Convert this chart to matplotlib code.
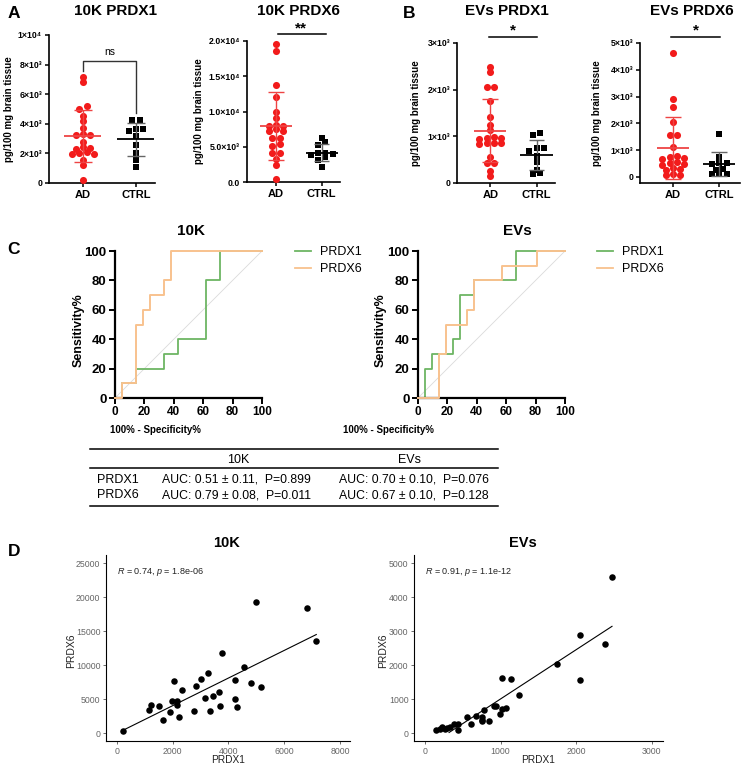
import numpy as np
import matplotlib
matplotlib.use("Agg")
import matplotlib.pyplot as plt
from matplotlib.lines import Line2D

plt.rcParams['font.family'] = ['Liberation Sans', 'DejaVu Sans']
plt.rcParams['mathtext.fontset'] = 'custom'
plt.rcParams['mathtext.rm'] = 'Liberation Sans'
plt.rcParams['mathtext.it'] = 'Liberation Sans:italic'
plt.rcParams['mathtext.bf'] = 'Liberation Sans:bold'

# ---------------- data ----------------
GROUPS = ['AD', 'CTRL']

# A / B : pg/100 mg brain tissue
AD_10K_PRDX1 = [7150, 6810, 5200, 5000, 4500, 4200, 3700, 3250, 3300, 3250, 2750,
                2400, 2300, 2350, 2100, 1950, 2000, 1950, 1560, 1240, 200]
CTRL_10K_PRDX1 = [4270, 4270, 3640, 3640, 3480, 3150, 2580, 2020, 1530, 1080]

AD_10K_PRDX6 = [19620, 18640, 13790, 12000, 9880, 9040, 8140, 7950, 7950, 7530, 7200,
                7200, 6260, 6260, 5320, 5080, 4140, 4140, 3290, 2450, 470]
CTRL_10K_PRDX6 = [6260, 5650, 5200, 4140, 4140, 4000, 3770, 3500, 3060, 2120]

AD_EV_PRDX1 = [2480, 2380, 2050, 2050, 1750, 1420, 1240, 1130, 980, 970, 960, 950,
               860, 850, 850, 840, 560, 430, 420, 250, 140]
CTRL_EV_PRDX1 = [1080, 1030, 760, 740, 690, 580, 450, 280, 220, 190]

AD_EV_PRDX6 = [4635, 2900, 2610, 2050, 1580, 1570, 1110, 780, 740, 720, 680, 560,
               520, 480, 450, 330, 300, 260, 120, 90, 70]
CTRL_EV_PRDX6 = [1610, 760, 530, 520, 500, 300, 260, 120, 110, 100]

YTICKS_10K_PRDX1 = [0, 2000, 4000, 6000, 8000, 10000]
YLABELS_10K_PRDX1 = ['0', '2×10³', '4×10³', '6×10³', '8×10³', '1×10⁴']
YTICKS_10K_PRDX6 = [0, 5000, 10000, 15000, 20000]
YLABELS_10K_PRDX6 = ['0.0', '5.0×10³', '1.0×10⁴', '1.5×10⁴', '2.0×10⁴']
YTICKS_EV_PRDX1 = [0, 1000, 2000, 3000]
YLABELS_EV_PRDX1 = ['0', '1×10³', '2×10³', '3×10³']
YTICKS_EV_PRDX6 = [0, 1000, 2000, 3000, 4000, 5000]
YLABELS_EV_PRDX6 = ['0', '1×10³', '2×10³', '3×10³', '4×10³', '5×10³']

# C : ROC step curves (100% - specificity, sensitivity)
ROC_10K_PRDX1_X = [0, 4.76, 14.29, 33.33, 42.86, 61.90, 71.43, 100]
ROC_10K_PRDX1_Y = [0, 10, 20, 30, 40, 80, 100, 100]
ROC_10K_PRDX6_X = [0, 4.76, 14.29, 19.05, 23.81, 33.33, 38.10, 100]
ROC_10K_PRDX6_Y = [0, 10, 50, 60, 70, 80, 100, 100]
ROC_EV_PRDX1_X = [0, 4.76, 9.52, 23.81, 28.57, 38.10, 66.67, 100]
ROC_EV_PRDX1_Y = [0, 20, 30, 40, 70, 80, 100, 100]
ROC_EV_PRDX6_X = [0, 14.29, 19.05, 33.33, 38.10, 57.14, 80.95, 100]
ROC_EV_PRDX6_Y = [0, 30, 50, 60, 80, 90, 100, 100]
ROC_TICKS = [0, 20, 40, 60, 80, 100]

TABLE_COLS = ['10K', 'EVs']
TABLE_ROWS = ['PRDX1', 'PRDX6']
AUC_10K = [(0.51, 0.11, 0.899), (0.79, 0.08, 0.011)]
AUC_EV = [(0.70, 0.10, 0.076), (0.67, 0.10, 0.128)]

# D : correlation PRDX1 vs PRDX6
COR_10K_PRDX1 = [200, 1150, 1220, 1520, 1640, 1890, 1980, 2040, 2140, 2160, 2210,
                 2330, 2760, 2820, 3010, 3160, 3260, 3330, 3460, 3670, 3680, 3760,
                 4230, 4250, 4300, 4540, 4790, 4980, 5170, 6820, 7150]
COR_10K_PRDX6 = [390, 3480, 4120, 4070, 2010, 3190, 4800, 7700, 4800, 4120, 2400,
                 6370, 3240, 7010, 8040, 5150, 8870, 3240, 5490, 6130, 4070, 11810,
                 7840, 5000, 3920, 9710, 7350, 19310, 6860, 18430, 13630]
COR_EV_PRDX1 = [141, 199, 225, 260, 287, 331, 384, 441, 437, 560, 609, 675, 750,
                754, 759, 781, 851, 913, 940, 997, 1019, 1024, 1072, 1138, 1249,
                1743, 2052, 2056, 2383, 2475]
COR_EV_PRDX6 = [88, 127, 186, 127, 147, 196, 284, 275, 98, 471, 265, 500, 480,
                392, 353, 676, 353, 804, 804, 569, 716, 1618, 755, 1598, 1127,
                2049, 2882, 1569, 2618, 4588]
COR_STATS = ['$\\it{R}$ = 0.74, $\\it{p}$ = 1.8e-06', '$\\it{R}$ = 0.91, $\\it{p}$ = 1.1e-12']

# ---------------- layout helpers ----------------
W, H = 753, 766
fig = plt.figure(figsize=(W / 100, H / 100), dpi=100)


def px_axes(x0, y0, x1, y1):
    return fig.add_axes([x0 / W, 1 - y1 / H, (x1 - x0) / W, (y1 - y0) / H])


def ftext(x, y, s, **kw):
    kw.setdefault('ha', 'center')
    kw.setdefault('va', 'center')
    fig.text(x / W, 1 - y / H, s, **kw)


def swarm_x(ax, center, values, d_px=7.3, thr_px=4.0):
    """Spread points horizontally in rows, like a scatter dot plot"""
    vals = np.asarray(values, float)
    ypx = ax.transData.transform(np.column_stack([np.zeros_like(vals), vals]))[:, 1]
    unit = ax.transData.transform((1, 0))[0] - ax.transData.transform((0, 0))[0]
    order = np.argsort(ypx, kind='stable')
    xs = np.full(len(vals), float(center))
    i = 0
    while i < len(order):
        j = i + 1
        while j < len(order) and ypx[order[j]] - ypx[order[i]] < thr_px:
            j += 1
        row = order[i:j]
        row = row[np.argsort(-vals[row], kind='stable')]
        n = len(row)
        slots = sorted(np.arange(n) - (n - 1) / 2, key=lambda s: (abs(s), -s))
        for idx, s in zip(row, slots):
            xs[idx] = center + s * d_px / unit
        i = j
    return xs


def dot_panel(box, ad, ctrl, ylim, yticks, ylabels, title, title_x, ylab_x, xlim):
    ax = px_axes(*box)
    ax.set_xlim(*xlim)
    ax.set_ylim(*ylim)
    for side in ['top', 'right']:
        ax.spines[side].set_visible(False)
    for side in ['left', 'bottom']:
        ax.spines[side].set_linewidth(1.2)
    ax.set_yticks(yticks)
    ax.set_yticklabels(ylabels, fontsize=6.3, fontweight='bold')
    ax.set_xticks([0, 1])
    ax.set_xticklabels(GROUPS, fontsize=8, fontweight='bold')
    ax.tick_params(axis='both', length=3, width=1.1, pad=2)

    for c, vals, mk, col, ecol, mcol in [(0, ad, 'o', '#F21B1B', '#EE4444', '#EE4444'),
                                         (1, ctrl, 's', 'black', '#666666', 'black')]:
        xs = swarm_x(ax, c, vals)
        ax.scatter(xs, vals, s=26 if mk == 'o' else 22, marker=mk, color=col,
                   linewidths=0, zorder=3, clip_on=False)
        m = np.mean(vals)
        sd = np.std(vals, ddof=1)
        ax.vlines(c, m - sd, m + sd, color=ecol, lw=1.0, zorder=4)
        ax.hlines([m - sd, m + sd], c - 0.17, c + 0.17, color=ecol, lw=1.0, zorder=4)
        ax.hlines(m, c - 0.35, c + 0.35, color=mcol, lw=1.3, zorder=4)

    ftext(title_x, 11, title, fontsize=11, fontweight='bold')
    ftext(ylab_x, (box[1] + box[3]) / 2, 'pg/100 mg brain tissue', rotation=90,
          fontsize=7, fontweight='bold')
    return ax


# ---------------- A / B ----------------
ax = dot_panel((49, 35, 155, 183), AD_10K_PRDX1, CTRL_10K_PRDX1, (0, 10000),
               YTICKS_10K_PRDX1, YLABELS_10K_PRDX1, '10K PRDX1', 115, 9, (-0.64, 1.36))
ax.plot([0, 0, 1, 1], [7570, 8240, 8240, 4730], color='#333333', lw=1.0, clip_on=False)
ax.text(0.5, 8500, 'ns', ha='center', va='bottom', fontsize=7.5)

ax = dot_panel((247, 41, 340, 182), AD_10K_PRDX6, CTRL_10K_PRDX6, (0, 20000),
               YTICKS_10K_PRDX6, YLABELS_10K_PRDX6, '10K PRDX6', 298, 199, (-0.63, 1.4))
ax.plot([0.04, 1.1], [20940, 20940], color='black', lw=1.1, clip_on=False)
ax.text(0.55, 20800, '**', ha='center', va='bottom', fontsize=11, fontweight='bold')

ax = dot_panel((457, 43, 555, 183), AD_EV_PRDX1, CTRL_EV_PRDX1, (0, 3000),
               YTICKS_EV_PRDX1, YLABELS_EV_PRDX1, 'EVs PRDX1', 507, 416, (-0.72, 1.4))
ax.plot([-0.02, 1.02], [3130, 3130], color='black', lw=1.1, clip_on=False)
ax.text(0.5, 3110, '*', ha='center', va='bottom', fontsize=11, fontweight='bold')

ax = dot_panel((640, 43, 740, 183), AD_EV_PRDX6, CTRL_EV_PRDX6, (-224, 5000),
               YTICKS_EV_PRDX6, YLABELS_EV_PRDX6, 'EVs PRDX6', 692, 597, (-0.72, 1.45))
ax.plot([-0.04, 1.02], [5224, 5224], color='black', lw=1.1, clip_on=False)
ax.text(0.5, 5190, '*', ha='center', va='bottom', fontsize=11, fontweight='bold')

ftext(14, 13, 'A', fontsize=12.5, fontweight='bold')
ftext(409, 13, 'B', fontsize=12.5, fontweight='bold')

# ---------------- C : ROC ----------------
GREEN = '#6DB563'
ORANGE = '#F8C28E'


def roc_panel(box, x1, y1, x6, y6, title, title_x, sens_x, legend_x, spec_x):
    ax = px_axes(*box)
    ax.set_xlim(0, 100)
    ax.set_ylim(0, 100)
    for side in ['top', 'right']:
        ax.spines[side].set_visible(False)
    for side in ['left', 'bottom']:
        ax.spines[side].set_linewidth(1.6)
    ax.plot([0, 100], [0, 100], color='#DADADA', lw=0.6, zorder=1)
    ax.step(x1, y1, where='post', color=GREEN, lw=1.3, zorder=2, clip_on=False)
    ax.step(x6, y6, where='post', color=ORANGE, lw=1.4, zorder=3, clip_on=False)
    ax.set_xticks(ROC_TICKS)
    ax.set_yticks(ROC_TICKS)
    ax.tick_params(axis='both', length=4, width=1.4, pad=2)
    for lab in ax.get_xticklabels():
        lab.set_fontsize(8.5)
        lab.set_fontweight('bold')
    for lab in ax.get_yticklabels():
        lab.set_fontsize(9.5)
        lab.set_fontweight('bold')
    handles = [Line2D([], [], color=GREEN, lw=1.3), Line2D([], [], color=ORANGE, lw=1.3)]
    ax.legend(handles, TABLE_ROWS, loc='upper left', frameon=False, fontsize=9,
              bbox_to_anchor=(legend_x / W, 1 - 246 / H), bbox_transform=fig.transFigure,
              borderpad=0, borderaxespad=0, handlelength=1.3, handletextpad=0.7,
              labelspacing=0.4)
    ftext(title_x, 231, title, fontsize=11, fontweight='bold')
    ftext(sens_x, 330, 'Sensitivity%', rotation=90, fontsize=9, fontweight='bold')
    ftext(spec_x, 430, '100% - Specificity%', fontsize=7, fontweight='bold')


roc_panel((115, 251, 262, 398), ROC_10K_PRDX1_X, ROC_10K_PRDX1_Y,
          ROC_10K_PRDX6_X, ROC_10K_PRDX6_Y, '10K', 191, 79, 295, 155)
roc_panel((418, 251, 565, 398), ROC_EV_PRDX1_X, ROC_EV_PRDX1_Y,
          ROC_EV_PRDX6_X, ROC_EV_PRDX6_Y, 'EVs', 517, 381, 597, 388)
ftext(14, 250, 'C', fontsize=12.5, fontweight='bold')

# ---------------- AUC table ----------------
tax = px_axes(0, 0, W, H)
tax.set_xlim(0, W)
tax.set_ylim(H, 0)
tax.axis('off')
tax.patch.set_alpha(0)
for y in [449, 468, 506]:
    tax.plot([90, 498], [y, y], color='black', lw=1.1)
tax.text(238, 460, TABLE_COLS[0], ha='center', va='center', fontsize=9)
tax.text(410, 460, TABLE_COLS[1], ha='center', va='center', fontsize=9)
for i, (name, a10, aev) in enumerate(zip(TABLE_ROWS, AUC_10K, AUC_EV)):
    y = 480 + 15 * i
    tax.text(97, y, name, ha='left', va='center', fontsize=9)
    tax.text(162, y, f'AUC: {a10[0]:.2f} ± {a10[1]:.2f},  P={a10[2]:.3f}',
             ha='left', va='center', fontsize=8.8)
    tax.text(339, y, f'AUC: {aev[0]:.2f} ± {aev[1]:.2f},  P={aev[2]:.3f}',
             ha='left', va='center', fontsize=8.8)

# ---------------- D : correlations ----------------


def cor_panel(box, x, y, xlim, ylim, xticks, yticks, stat, title, title_x, ylab_x, xlab_x):
    ax = px_axes(*box)
    ax.set_xlim(*xlim)
    ax.set_ylim(*ylim)
    for side in ['top', 'right']:
        ax.spines[side].set_visible(False)
    for side in ['left', 'bottom']:
        ax.spines[side].set_linewidth(0.8)
    ax.scatter(x, y, s=22, color='black', linewidths=0, zorder=3)
    k, b = np.polyfit(x, y, 1)
    xx = np.linspace(min(x), max(x), 80)
    yy = k * xx + b
    keep = yy >= 0
    ax.plot(xx[keep], yy[keep], color='black', lw=0.8, zorder=2)
    ax.set_xticks(xticks)
    ax.set_yticks(yticks)
    ax.tick_params(axis='both', length=2.5, width=0.6, color='#555555',
                   labelcolor='#666666', labelsize=6.3, pad=1.5)
    ax.text(0, ylim[1] * 0.905, stat, ha='left', va='center', fontsize=6.5, color='#222222')
    ftext(title_x, 543, title, fontsize=10.5, fontweight='bold')
    ftext(ylab_x, 651, 'PRDX6', rotation=90, fontsize=7.5, color='#222222')
    ftext(xlab_x, 760, 'PRDX1', fontsize=7.3, color='#222222')


cor_panel((106, 555, 350, 741), COR_10K_PRDX1, COR_10K_PRDX6, (-395, 8360), (-1130, 26220),
          [0, 2000, 4000, 6000, 8000], [0, 5000, 10000, 15000, 20000, 25000],
          COR_STATS[0], '10K', 227, 71, 228)
cor_panel((414, 555, 663, 741), COR_EV_PRDX1, COR_EV_PRDX6, (-146, 3150), (-226, 5244),
          [0, 1000, 2000, 3000], [0, 1000, 2000, 3000, 4000, 5000],
          COR_STATS[1], 'EVs', 523, 383, 538)
ftext(14, 551, 'D', fontsize=12.5, fontweight='bold')

fig.savefig('out.png', dpi=100)
